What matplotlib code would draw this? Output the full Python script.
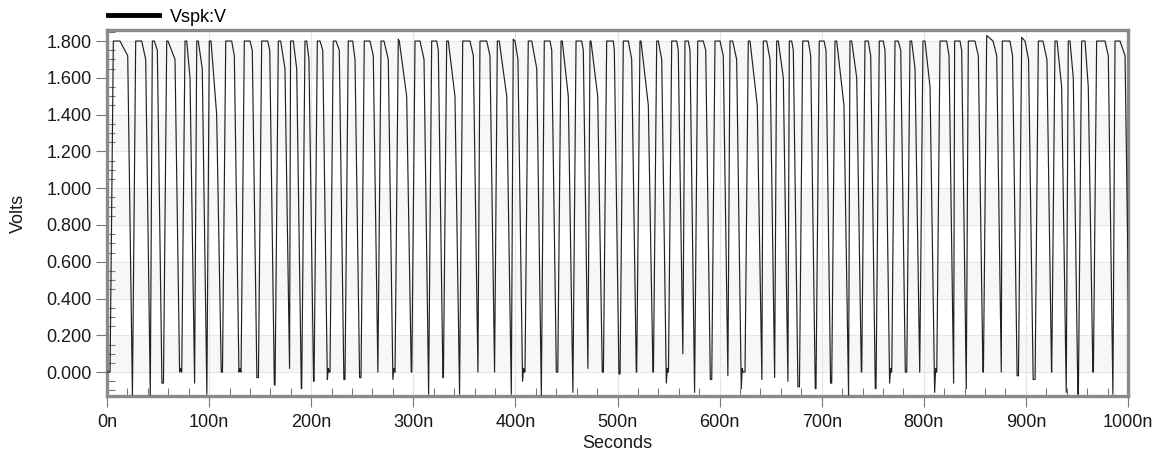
import numpy as np
import matplotlib
matplotlib.use("Agg")
import matplotlib.pyplot as plt
from matplotlib.ticker import MultipleLocator, FuncFormatter
from matplotlib.lines import Line2D

plt.rcParams['font.family'] = ['Liberation Sans', 'DejaVu Sans']

# ---- data (ns / V) ----
top_ns = [6.2, 28.1, 44.4, 58.5, 76.4, 87.9, 100.2, 116.3, 134.5, 151.5, 167.8, 179.2, 193.9,
          206.0, 221.6, 236.3, 252.0, 268.4, 285.3, 301.7, 318.0, 332.7, 348.4, 365.3, 382.3,
          397.9, 412.6, 428.3, 444.7, 459.4, 473.1, 489.4, 505.7, 522.0, 538.4, 553.1, 566.1,
          578.6, 595.5, 610.2, 628.1, 642.8, 655.9, 668.3, 681.4, 697.6, 713.0, 727.7, 742.4,
          756.4, 771.8, 786.5, 799.2, 815.9, 828.9, 843.6, 861.6, 876.3, 895.9, 912.2, 928.5,
          941.5, 954.6, 969.3, 987.3]
top_end_ns = [12.7, 34.0, 46.3, 59.7, 78.1, 89.4, 101.9, 122.1, 140.1, 157.4, 170.1, 182.5, 195.6,
              208.6, 224.3, 240.6, 257.6, 271.3, 286.3, 306.6, 322.9, 334.3, 355.5, 371.9, 384.2,
              399.6, 416.0, 433.9, 445.9, 464.9, 474.0, 495.9, 510.6, 523.0, 540.0, 558.0, 569.3,
              584.0, 600.4, 612.8, 629.8, 646.1, 657.5, 670.6, 686.9, 702.3, 714.7, 729.4, 745.6,
              760.3, 775.0, 788.1, 801.2, 822.4, 835.5, 850.1, 867.8, 884.4, 899.1, 916.7, 930.5,
              943.2, 957.9, 977.5, 992.2]
knee_ns = [20.3, 37.9, 49.3, 66.6, 81.3, 93.3, 107.4, 124.7, 142.3, 159.4, 174.3, 185.8, 197.8,
           211.3, 227.5, 242.9, 260.8, 275.5, 293.5, 310.5, 324.5, 340.8, 358.8, 375.1, 391.5,
           402.5, 420.9, 435.6, 451.8, 466.5, 480.6, 496.9, 513.9, 530.2, 543.3, 559.5, 571.0,
           586.4, 603.6, 616.7, 636.9, 649.4, 662.4, 672.2, 689.2, 704.2, 721.8, 734.3, 748.0,
           762.0, 777.4, 791.4, 806.1, 824.7, 837.1, 853.4, 871.4, 886.9, 902.6, 920.6, 935.0,
           946.4, 961.1, 980.7, 997.1]
knee_v = [1.72, 1.70, 1.75, 1.70, 1.60, 1.65, 1.40, 1.72, 1.75, 1.75, 1.65, 1.65, 1.70,
          1.75, 1.75, 1.70, 1.72, 1.70, 1.50, 1.70, 1.75, 1.50, 1.72, 1.72, 1.50,
          1.70, 1.65, 1.75, 1.50, 1.75, 1.50, 1.75, 1.70, 1.45, 1.70, 1.75, 1.75,
          1.75, 1.72, 1.70, 1.45, 1.70, 1.60, 1.75, 1.72, 1.75, 1.45, 1.60, 1.72,
          1.75, 1.75, 1.65, 1.55, 1.72, 1.75, 1.72, 1.72, 1.72, 1.70, 1.70, 1.55,
          1.60, 1.55, 1.72, 1.72]
peak_v = [1.80] * 65
peak_v[18] = 1.81
peak_v[25] = 1.81
peak_v[56] = 1.83
peak_v[58] = 1.82
min_v = [-0.125, -0.125, -0.06, 0.0, -0.06, -0.12, 0.0, 0.0, -0.03, -0.07, 0.02, -0.09, -0.05,
         -0.04, -0.04, -0.03, 0.0, -0.04, 0.0, -0.12, -0.03, -0.12, 0.0, 0.0, -0.12,
         -0.05, -0.125, 0.0, -0.11, 0.02, 0.0, -0.01, 0.0, 0.0, -0.06, 0.10, -0.11,
         -0.04, -0.02, -0.09, -0.04, -0.03, -0.05, -0.08, -0.09, -0.06, -0.125, 0.0, -0.09,
         -0.06, 0.0, 0.0, -0.11, -0.06, -0.09, 0.0, 0.0, -0.02, -0.04, 0.0, -0.11,
         -0.12, 0.0, -0.12, -0.05]
rise_time = [3.2]
fall_time = [4.5]

x_ticks = [0, 100, 200, 300, 400, 500, 600, 700, 800, 900, 1000]
y_ticks = [0.0, 0.2, 0.4, 0.6, 0.8, 1.0, 1.2, 1.4, 1.6, 1.8]

# ---- build waveform ----
t, v = [0.0], [0.0]
prev_bt = 0.0
for i in range(len(top_ns)):
    rs = max(top_ns[i] - rise_time[0], prev_bt)
    if rs > t[-1]:
        t.append(rs); v.append(v[-1])
    tp = max(top_ns[i], rs + 1.0)
    t.append(tp); v.append(peak_v[i])
    te = max(top_end_ns[i], tp + 0.4)
    t.append(te); v.append(1.80)
    kn = max(knee_ns[i], te + 0.4)
    t.append(kn); v.append(knee_v[i])
    bt = kn + fall_time[0]
    t.append(bt); v.append(min_v[i])
    prev_bt = bt
    if i + 1 < len(top_ns):
        nrs = top_ns[i + 1] - rise_time[0]
        if nrs > bt + 2.0:
            t.append(bt + 1.0); v.append(min(0.02, max(min_v[i], 0.0) + 0.02))
            t.append(bt + 1.8); v.append(0.0)
            prev_bt = bt + 1.8

t = np.array(t); v = np.array(v)

# ---- figure ----
fig = plt.figure(figsize=(11.61, 4.53), dpi=100)
ax = fig.add_axes([107 / 1161, 57 / 453, 1021 / 1161, 366 / 453])
ax.set_xlim(0, 1000)
ax.set_ylim(-0.13, 1.86)

for k in range(0, len(y_ticks) - 1, 2):
    ax.axhspan(y_ticks[k], y_ticks[k + 1], color='#f7f7f7', zorder=0, lw=0)
ax.grid(True, which='major', color='#e6e6e6', lw=0.8, zorder=0.5)

ax.plot(t, v, color='#222222', lw=0.85, zorder=3)

ax.set_xticks(x_ticks)
ax.set_yticks(y_ticks)
ax.xaxis.set_major_formatter(FuncFormatter(lambda x, p: f"{x:.0f}n"))
ax.yaxis.set_major_formatter(FuncFormatter(lambda y, p: f"{y:.3f}"))
ax.xaxis.set_minor_locator(MultipleLocator(20))
ax.yaxis.set_minor_locator(MultipleLocator(0.05))
ax.tick_params(which='major', direction='out', length=8, width=0.8, color='#777777',
               labelsize=13, labelcolor='#1a1a1a', pad=3)
ax.tick_params(axis='x', which='major', pad=5)
ax.tick_params(which='minor', direction='in', length=6, width=0.8, color='#777777')
for s in ax.spines.values():
    s.set_color('#8a8a8a')
    s.set_linewidth(2.4)

ax.set_xlabel('Seconds', fontsize=13, color='#1a1a1a', labelpad=3)
ax.set_ylabel('Volts', fontsize=13, color='#1a1a1a', labelpad=14)

handle = Line2D([], [], color='black', lw=3.5)
fig.legend([handle], ['Vspk:V'], loc='center left', bbox_to_anchor=(101 / 1161, 1 - 17 / 453),
           frameon=False, fontsize=13, handlelength=2.8, handletextpad=0.6, borderaxespad=0)

fig.savefig('out.png', dpi=100)
